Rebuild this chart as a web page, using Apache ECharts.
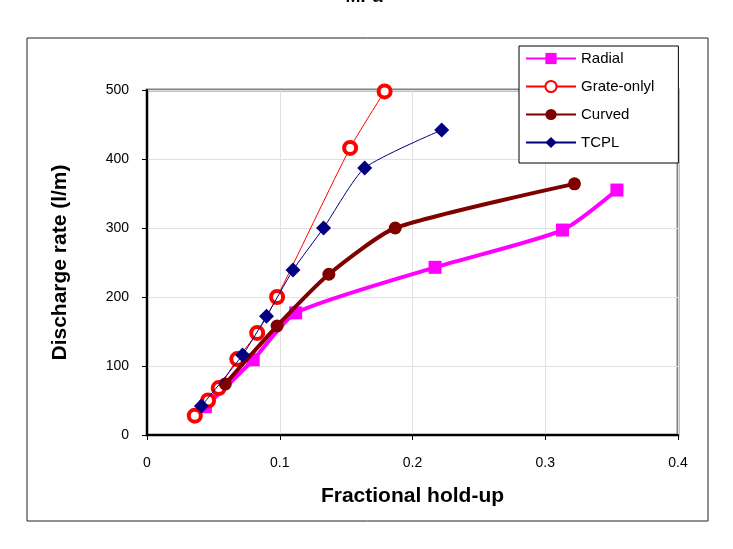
<!DOCTYPE html>
<html>
<head>
<meta charset="utf-8">
<script src="https://cdn.jsdelivr.net/npm/echarts@6/dist/echarts.min.js"></script>
<style>
  html, body { margin: 0; padding: 0; background: #fff; }
  #main { width: 733px; height: 549px; }
</style>
</head>
<body>
<div id="main"></div>
<script>
// values: [fractional hold-up, discharge rate]
var radial = [[0.044, 41], [0.080, 109], [0.112, 177], [0.217, 243], [0.313, 297], [0.354, 355]];
var grateOnly = [[0.036, 28], [0.046, 50], [0.054, 68], [0.068, 110], [0.083, 148], [0.098, 200], [0.153, 416], [0.179, 498]];
var curved = [[0.059, 74], [0.098, 158], [0.137, 233], [0.187, 300], [0.322, 364]];
var tcpl = [[0.041, 42], [0.072, 116], [0.090, 172], [0.110, 239], [0.133, 300], [0.164, 387], [0.222, 442]];
var seriesNames = ['Radial', 'Grate-onlyl', 'Curved', 'TCPL'];

var myChart = echarts.init(document.getElementById('main'));
var font = 'Liberation Sans, Arial, sans-serif';

var option = {
    backgroundColor: '#fff',
    animation: false,
    graphic: [
        {
            type: 'rect',
            shape: { x: 27, y: 38, width: 681, height: 483 },
            style: { fill: 'none', stroke: '#222', lineWidth: 1 },
            z: -1
        },
        {
            // title, cut off at the top edge of the picture
            type: 'text',
            x: 364,
            y: -12,
            style: {
                text: 'MPa',
                font: 'bold 18px ' + font,
                fill: '#000',
                textAlign: 'center'
            }
        }
    ],
    legend: {
        data: seriesNames,
        orient: 'vertical',
        left: 519,
        top: 46,
        padding: [5, 24, 13, 6],
        itemGap: 13,
        itemWidth: 50,
        itemHeight: 14,
        backgroundColor: '#fff',
        borderColor: '#000',
        borderWidth: 1,
        textStyle: { fontFamily: font, fontSize: 15, color: '#000' }
    },
    grid: {
        left: 147,
        right: 55,
        top: 90,
        bottom: 114,
        show: true,
        borderColor: '#808080',
        borderWidth: 3,
        backgroundColor: '#fff'
    },
    xAxis: {
        type: 'value',
        min: 0,
        max: 0.4,
        interval: 0.1,
        name: 'Fractional hold-up',
        nameLocation: 'middle',
        nameGap: 51,
        nameTextStyle: { fontFamily: font, fontSize: 21, fontWeight: 'bold', color: '#000' },
        axisLine: { onZero: false, lineStyle: { color: '#000', width: 2 } },
        axisTick: { show: true, length: 5, lineStyle: { color: '#000' } },
        axisLabel: { fontFamily: font, fontSize: 14, color: '#000', margin: 21 },
        splitLine: { show: true, lineStyle: { color: '#e0e0e0', width: 1 } }
    },
    yAxis: {
        type: 'value',
        min: 0,
        max: 500,
        interval: 100,
        name: 'Discharge rate (l/m)',
        nameLocation: 'middle',
        nameGap: 76,
        nameTextStyle: { fontFamily: font, fontSize: 21, fontWeight: 'bold', color: '#000' },
        axisLine: { onZero: false, lineStyle: { color: '#000', width: 2 } },
        axisTick: { show: true, length: 5, lineStyle: { color: '#000' } },
        axisLabel: { fontFamily: font, fontSize: 14, color: '#000', margin: 18 },
        splitLine: { show: true, lineStyle: { color: '#e0e0e0', width: 1 } }
    },
    series: [
        {
            name: seriesNames[0],
            type: 'line',
            data: radial,
            smooth: 0.2,
            symbol: 'rect',
            symbolSize: 13,
            lineStyle: { color: '#ff00ff', width: 4 },
            itemStyle: { color: '#ff00ff' },
            z: 2
        },
        {
            name: seriesNames[1],
            type: 'line',
            data: grateOnly,
            smooth: 0.2,
            symbol: 'circle',
            symbolSize: 12,
            lineStyle: { color: '#ff0000', width: 1 },
            itemStyle: { color: '#fff', borderColor: '#ff0000', borderWidth: 4 },
            z: 3
        },
        {
            name: seriesNames[2],
            type: 'line',
            data: curved,
            smooth: 0.2,
            symbol: 'circle',
            symbolSize: 13,
            lineStyle: { color: '#800000', width: 4 },
            itemStyle: { color: '#800000' },
            z: 4
        },
        {
            name: seriesNames[3],
            type: 'line',
            data: tcpl,
            smooth: 0.2,
            symbol: 'diamond',
            symbolSize: 15,
            lineStyle: { color: '#000080', width: 1 },
            itemStyle: { color: '#000080' },
            z: 5
        }
    ]
};
myChart.setOption(option);
</script>
</body>
</html>
